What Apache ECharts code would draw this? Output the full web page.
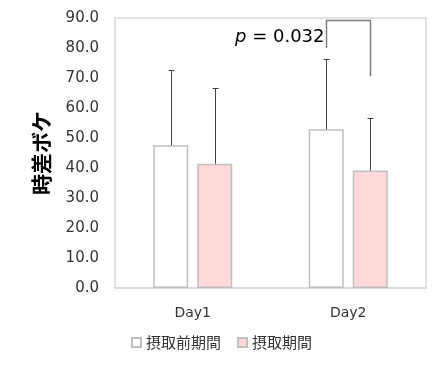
<!DOCTYPE html>
<html>
<head>
<meta charset="utf-8">
<script src="https://cdn.jsdelivr.net/npm/echarts@6/dist/echarts.min.js"></script>
<style>
  html, body { margin: 0; padding: 0; background: #fff; }
  #chart { width: 443px; height: 368px; }
</style>
</head>
<body>
<div id="chart"></div>
<script>
// ---- data ----
const categories = ['Day1', 'Day2'];
const seriesNames = ['摂取前期間', '摂取期間'];
const preMeans = [47.6, 52.9];
const preUpper = [72.7, 76.4];      // mean + SD
const intakeMeans = [41.4, 39.2];
const intakeUpper = [66.6, 56.6];   // mean + SD
const yMin = 0, yMax = 90, yInterval = 10;
const yTitle = '時差ボケ';
// significance bracket on Day2: [category index, left end, top, right end, label value]
const bracketCategory = [1];
const bracketValues = [80, 89.4, 70.6];
const bracketLabelLevel = [83.7];
const pValueText = ['0.032'];

// ---- layout constants ----
const BAR_W = 35;
const BAR_GAP = 0.26;
const latin = 'DejaVu Sans';
const cjk = 'Noto Sans CJK JP';

function barOffset(i, n) {
  const step = BAR_W * (1 + BAR_GAP);
  return (i - (n - 1) / 2) * step;
}

function errorSeries(name, idx, means, uppers) {
  return {
    type: 'custom',
    name: name,
    z: 5,
    silent: true,
    data: means.map((m, k) => [k, m, uppers[k]]),
    encode: { x: 0, y: [1, 2] },
    renderItem: function (params, api) {
      const p0 = api.coord([api.value(0), api.value(1)]);
      const p1 = api.coord([api.value(0), api.value(2)]);
      const cx = Math.round(p0[0] + barOffset(idx, 2)) + 0.5;
      const yTop = Math.round(p1[1]) + 0.5;
      const st = { stroke: '#404040', lineWidth: 1 };
      return {
        type: 'group',
        children: [
          { type: 'line', shape: { x1: cx, y1: p0[1], x2: cx, y2: yTop }, style: st },
          { type: 'line', shape: { x1: cx - 3, y1: yTop, x2: cx + 3, y2: yTop }, style: st }
        ]
      };
    }
  };
}

const chart = echarts.init(document.getElementById('chart'), null, { renderer: 'canvas' });

const option = {
  animation: false,
  backgroundColor: '#fff',
  grid: {
    left: 115, right: 17, top: 18, bottom: 80,
    show: true, borderColor: '#d9d9d9', borderWidth: 1.5, backgroundColor: 'transparent'
  },
  legend: {
    data: seriesNames,
    left: 'center',
    top: 330,
    icon: 'rect',
    itemWidth: 9,
    itemHeight: 9,
    itemGap: 16,
    textStyle: { fontFamily: cjk, fontSize: 15, color: '#333' }
  },
  xAxis: {
    type: 'category',
    data: categories,
    axisLine: { show: true, lineStyle: { color: '#d9d9d9', width: 1.5 } },
    axisTick: { show: false },
    axisLabel: { fontFamily: latin, fontSize: 14, color: '#333', margin: 18 }
  },
  yAxis: {
    type: 'value',
    min: yMin, max: yMax, interval: yInterval,
    name: yTitle,
    nameLocation: 'middle',
    nameGap: 63,
    nameTextStyle: { fontFamily: cjk, fontSize: 21, fontWeight: 'bold', color: '#000' },
    axisLine: { show: false },
    axisTick: { show: false },
    splitLine: { show: false },
    axisLabel: {
      fontFamily: latin, fontSize: 15, color: '#333', margin: 16,
      formatter: v => v.toFixed(1)
    }
  },
  series: [
    {
      type: 'bar', name: seriesNames[0], data: preMeans,
      barWidth: BAR_W, barGap: (BAR_GAP * 100) + '%',
      itemStyle: { color: '#ffffff', borderColor: '#bfbfbf', borderWidth: 1.5 }
    },
    {
      type: 'bar', name: seriesNames[1], data: intakeMeans,
      barWidth: BAR_W, barGap: (BAR_GAP * 100) + '%',
      itemStyle: { color: '#ffd9d9', borderColor: '#bfbfbf', borderWidth: 1.5 }
    },
    errorSeries('err0', 0, preMeans, preUpper),
    errorSeries('err1', 1, intakeMeans, intakeUpper),
    {
      type: 'custom',
      name: 'bracket',
      z: 6,
      silent: true,
      data: [[bracketCategory[0], bracketValues[0], bracketValues[1], bracketValues[2], bracketLabelLevel[0]]],
      encode: { x: 0, y: [1, 2, 3] },
      renderItem: function (params, api) {
        const c = api.value(0);
        const pl = api.coord([c, api.value(1)]);
        const pt = api.coord([c, api.value(2)]);
        const pr = api.coord([c, api.value(3)]);
        const pLab = api.coord([c, api.value(4)]);
        const xl = Math.round(pl[0] + barOffset(0, 2)) + 0.5;
        const xr = Math.round(pl[0] + barOffset(1, 2)) + 0.5;
        const yt = Math.round(pt[1]) + 0.5;
        return {
          type: 'group',
          children: [
            {
              type: 'polyline',
              shape: { points: [[xl, pl[1]], [xl, yt], [xr, yt], [xr, pr[1]]] },
              style: { stroke: '#7f7f7f', lineWidth: 1.5, fill: null }
            },
            {
              type: 'text',
              x: xl - 2, y: pLab[1],
              style: {
                text: '{i|p} = ' + pValueText[0],
                align: 'right', verticalAlign: 'middle',
                fontFamily: latin, fontSize: 18, fill: '#000',
                rich: { i: { fontStyle: 'italic', fontFamily: latin, fontSize: 18, fill: '#000' } }
              }
            }
          ]
        };
      }
    }
  ]
};

chart.setOption(option);
</script>
</body>
</html>
